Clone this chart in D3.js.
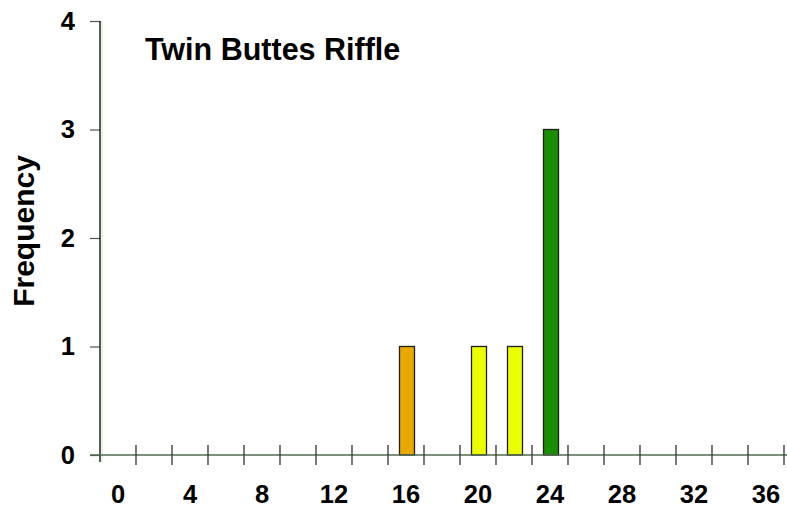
<!DOCTYPE html>
<html>
<head>
<meta charset="utf-8">
<script src="https://cdn.jsdelivr.net/npm/d3@7/dist/d3.min.js"></script>
<style>
  html, body { margin: 0; padding: 0; background: #fff; }
  svg { display: block; font-family: "Liberation Sans", Arial, sans-serif; }
</style>
</head>
<body>
<svg id="chart" width="787" height="511"></svg>
<script>
// Length classes (bins of width 2) and their frequencies
const bins = [0, 2, 4, 6, 8, 10, 12, 14, 16, 18, 20, 22, 24, 26, 28, 30, 32, 34, 36];
const frequency = [0, 0, 0, 0, 0, 0, 0, 0, 1, 0, 1, 1, 3, 0, 0, 0, 0, 0, 0];
const barColors = ["#e8a800", "#e8a800", "#e8a800", "#e8a800", "#e8a800", "#e8a800", "#e8a800", "#e8a800", "#e8a800",
                   "#ecff00", "#ecff00", "#ecff00", "#1a8e00", "#1a8e00", "#1a8e00", "#1a8e00", "#1a8e00", "#1a8e00", "#1a8e00"];
const xLabels = [0, 4, 8, 12, 16, 20, 24, 28, 32, 36];
const yTicks = [0, 1, 2, 3, 4];
const title = "Twin Buttes Riffle";
const yTitle = "Frequency";

const svg = d3.select("#chart");
const plotLeft = 100, plotRight = 784, plotTop = 21, plotBottom = 455;
const labelFont = "'Liberation Sans', Arial, sans-serif";

const x = d3.scaleBand().domain(bins).range([plotLeft, plotRight]).padding(0);
const y = d3.scaleLinear().domain([0, 4]).range([plotBottom, plotTop]);

// faint plot-area edge next to the value axis
svg.append("line")
  .attr("x1", plotLeft + 2).attr("x2", plotLeft + 2)
  .attr("y1", plotTop).attr("y2", plotBottom + 7)
  .attr("stroke", "#c8ecc0").attr("stroke-width", 1);

// bars
const barW = 15;
const data = bins.map((b, i) => ({ bin: b, value: frequency[i], color: barColors[i] }))
  .filter(d => d.value > 0);
svg.append("g").selectAll("rect").data(data).join("rect")
  .attr("x", d => x(d.bin) + (x.bandwidth() - barW) / 2 + 1)
  .attr("y", d => y(d.value))
  .attr("width", barW)
  .attr("height", d => y(0) - y(d.value))
  .attr("fill", d => d.color)
  .attr("stroke", "#1e1e1e")
  .attr("stroke-width", 1.3);

// value axis
const yAxis = d3.axisLeft(y).tickValues(yTicks).tickSize(10).tickPadding(15).tickFormat(d3.format("d"));
const gy = svg.append("g").attr("transform", `translate(${plotLeft},0)`).call(yAxis);
gy.select(".domain").remove();
gy.selectAll(".tick line").attr("stroke", "#555").attr("stroke-width", 1.2);
gy.selectAll(".tick text")
  .attr("font-size", 25.5).attr("font-weight", "bold").attr("fill", "#000")
  .attr("font-family", labelFont);
svg.append("line")
  .attr("x1", plotLeft).attr("x2", plotLeft)
  .attr("y1", plotTop).attr("y2", plotBottom + 7)
  .attr("stroke", "#000").attr("stroke-width", 1.3);

// category axis line
svg.append("line")
  .attr("x1", plotLeft - 10).attr("x2", 787)
  .attr("y1", plotBottom).attr("y2", plotBottom)
  .attr("stroke", "#4f6a4f").attr("stroke-width", 1.5);

// bin boundary ticks crossing the axis
const edges = bins.map(b => x(b)).concat([x(bins[bins.length - 1]) + x.bandwidth()]);
svg.append("g").selectAll("line").data(edges.slice(1)).join("line")
  .attr("x1", d => d).attr("x2", d => d)
  .attr("y1", plotBottom - 10).attr("y2", plotBottom + 10)
  .attr("stroke", "#333").attr("stroke-width", 1.3);

// category labels on every other bin
const xAxis = d3.axisBottom(x).tickValues(xLabels).tickSize(0).tickPadding(30);
const gx = svg.append("g").attr("transform", `translate(0,${plotBottom})`).call(xAxis);
gx.select(".domain").remove();
gx.selectAll(".tick text")
  .attr("font-size", 25.5).attr("font-weight", "bold").attr("fill", "#000")
  .attr("font-family", labelFont);

// titles
svg.append("text")
  .attr("x", 145).attr("y", 60)
  .attr("font-size", 30.5).attr("font-weight", "bold")
  .attr("font-family", labelFont)
  .text(title);

svg.append("text")
  .attr("transform", `translate(34,231) rotate(-90)`)
  .attr("text-anchor", "middle")
  .attr("font-size", 30).attr("font-weight", "bold")
  .attr("font-family", labelFont)
  .text(yTitle);
</script>
</body>
</html>
